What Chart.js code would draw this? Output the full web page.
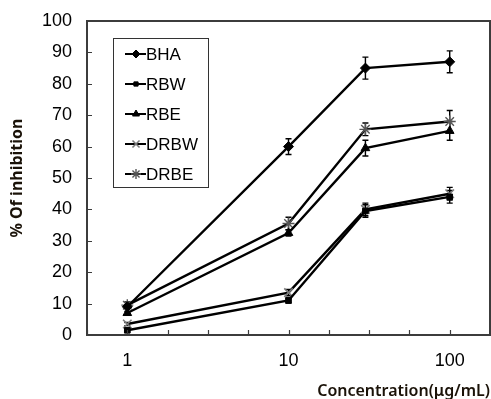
<!DOCTYPE html>
<html>
<head>
<meta charset="utf-8">
<script src="https://cdn.jsdelivr.net/npm/chart.js@4/dist/chart.umd.min.js"></script>
<style>
html, body { margin: 0; padding: 0; background: #fff; }
#wrap { width: 491px; height: 399px; }
</style>
</head>
<body>
<div id="wrap"><canvas id="lineChart" width="491" height="399"></canvas></div>
<script>
// concentration (ug/mL) and % inhibition
var conc = [1, 10, 30, 100];
var bha  = [9, 60, 85, 87];
var rbw  = [1.5, 11, 39.5, 44];
var rbe  = [7, 32.5, 59.5, 65];
var drbw = [3.5, 13.5, 40, 45];
var drbe = [9.5, 35.5, 65.5, 68];
// error bars (+/-)
var bhaErr  = [0.5, 2.5, 3.5, 3.5];
var rbwErr  = [0.5, 0.8, 2, 2];
var rbeErr  = [0.5, 1, 2.5, 3];
var drbwErr = [0.5, 1, 2, 2];
var drbeErr = [1, 2, 2, 3.5];
// axis ticks
var xTicks = [0.5623, 1, 1.778, 3.162, 5.623, 10, 17.78, 31.62, 56.23, 100, 177.8];
var xLabels = ['', '1', '', '', '', '10', '', '', '', '100', ''];
var yTicks = [0, 10, 20, 30, 40, 50, 60, 70, 80, 90, 100];

function pts(vals) {
  return conc.map(function(c, i) { return {x: c, y: vals[i]}; });
}

var series = [
  {label: 'BHA',  data: bha,  err: bhaErr,  style: 'rectRot',  radius: 5, fill: '#000', stroke: '#000', bw: 1},
  {label: 'RBW',  data: rbw,  err: rbwErr,  style: 'rect',     radius: 4, fill: '#000', stroke: '#000', bw: 1},
  {label: 'RBE',  data: rbe,  err: rbeErr,  style: 'triangle', radius: 5, fill: '#000', stroke: '#000', bw: 1},
  {label: 'DRBW', data: drbw, err: drbwErr, style: 'crossRot', radius: 6, fill: '#fff', stroke: '#7a7a7a', bw: 1.6},
  {label: 'DRBE', data: drbe, err: drbeErr, style: 'star',     radius: 6, fill: '#fff', stroke: '#555', bw: 1.4}
];

// markers may run over the frame edge, don't shrink the plot for them
Chart.registry.getController('line').prototype.getMaxOverflow = function() { return 0; };

function noPad(scale) {
  scale.paddingLeft = 0; scale.paddingRight = 0;
  scale.paddingTop = 0; scale.paddingBottom = 0;
}

var extras = {
  id: 'extras',
  beforeDatasetsDraw: function(chart) {
    var ctx = chart.ctx, xs = chart.scales.x, ys = chart.scales.y;
    ctx.save();
    ctx.strokeStyle = '#000';
    ctx.lineWidth = 1.4;
    series.forEach(function(s) {
      conc.forEach(function(c, i) {
        var x = xs.getPixelForValue(c);
        var y1 = ys.getPixelForValue(s.data[i] + s.err[i]);
        var y2 = ys.getPixelForValue(s.data[i] - s.err[i]);
        ctx.beginPath();
        ctx.moveTo(x, y1); ctx.lineTo(x, y2);
        ctx.moveTo(x - 3, y1); ctx.lineTo(x + 3, y1);
        ctx.moveTo(x - 3, y2); ctx.lineTo(x + 3, y2);
        ctx.stroke();
      });
    });
    ctx.restore();
  },
  afterDraw: function(chart) {
    var ctx = chart.ctx, a = chart.chartArea, xs = chart.scales.x, ys = chart.scales.y;
    ctx.save();
    // frame
    ctx.strokeStyle = '#3c3c3c';
    ctx.lineWidth = 2;
    ctx.strokeRect(a.left, a.top, a.right - a.left, a.bottom - a.top);
    // inward tick marks
    ctx.lineWidth = 1.2;
    ctx.beginPath();
    xTicks.forEach(function(v) {
      var x = Math.round(xs.getPixelForValue(v)) + 0.5;
      ctx.moveTo(x, a.bottom); ctx.lineTo(x, a.bottom - 5);
    });
    yTicks.forEach(function(v) {
      var y = Math.round(ys.getPixelForValue(v)) + 0.5;
      ctx.moveTo(a.left, y); ctx.lineTo(a.left + 5, y);
    });
    ctx.stroke();
    // legend box
    ctx.strokeStyle = '#333';
    ctx.lineWidth = 1;
    ctx.strokeRect(113.5, 38.5, 95, 149);
    ctx.font = '17px "Liberation Sans", Arial, sans-serif';
    ctx.textBaseline = 'middle';
    series.forEach(function(s, i) {
      var y = 54 + i * 30;
      ctx.strokeStyle = '#000';
      ctx.lineWidth = 2;
      ctx.beginPath();
      ctx.moveTo(125, y); ctx.lineTo(146, y);
      ctx.stroke();
      ctx.fillStyle = s.fill;
      ctx.strokeStyle = s.stroke;
      ctx.lineWidth = s.bw;
      Chart.helpers.drawPoint(ctx, {pointStyle: s.style, radius: s.radius - 1, borderWidth: s.bw, rotation: 0}, 136, y);
      ctx.fillStyle = '#000';
      ctx.fillText(s.label, 146, y + 1);
    });
    ctx.restore();
  }
};

var ctx = document.getElementById('lineChart').getContext('2d');
var myChart = new Chart(ctx, {
  type: 'line',
  data: {
    datasets: series.map(function(s) {
      return {
        label: s.label,
        data: pts(s.data),
        borderColor: '#000',
        borderWidth: 2.4,
        pointStyle: s.style,
        pointRadius: s.radius,
        pointBackgroundColor: s.fill,
        pointBorderColor: s.stroke,
        pointBorderWidth: s.bw,
        tension: 0,
        clip: false
      };
    })
  },
  options: {
    responsive: false,
    animation: false,
    layout: { padding: { top: 21, right: 1, left: 0, bottom: 0 } },
    plugins: { legend: { display: false }, tooltip: { enabled: false } },
    scales: {
      x: {
        type: 'logarithmic',
        min: 0.5623,
        max: 177.8,
        afterBuildTicks: function(scale) {
          scale.ticks = xTicks.map(function(v) { return {value: v}; });
        },
        afterFit: function(scale) { scale.height = 64; noPad(scale); },
        grid: { display: false, drawTicks: false },
        border: { display: false },
        ticks: {
          autoSkip: false,
          maxRotation: 0,
          padding: 15,
          color: '#000',
          font: { family: '"Liberation Sans", Arial, sans-serif', size: 18 },
          callback: function(value, index) { return xLabels[index]; }
        },
        title: {
          display: true,
          text: 'Concentration(μg/mL)',
          align: 'end',
          color: '#1a1208',
          padding: { top: 0, bottom: -2 },
          font: { family: '"Noto Sans", sans-serif', size: 16, weight: '600' }
        }
      },
      y: {
        min: 0,
        max: 100,
        afterBuildTicks: function(scale) {
          scale.ticks = yTicks.map(function(v) { return {value: v}; });
        },
        afterFit: function(scale) { scale.width = 87; noPad(scale); },
        grid: { display: false, drawTicks: false },
        border: { display: false },
        ticks: {
          padding: 15,
          color: '#000',
          font: { family: '"Liberation Sans", Arial, sans-serif', size: 18 }
        },
        title: {
          display: true,
          text: '% Of inhibition',
          color: '#1a1208',
          padding: { top: 8, bottom: 0 },
          font: { family: '"Noto Sans", sans-serif', size: 16, weight: 'bold' }
        }
      }
    }
  },
  plugins: [extras]
});
</script>
</body>
</html>
